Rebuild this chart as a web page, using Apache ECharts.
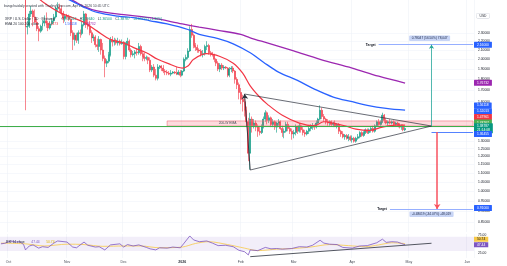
<!DOCTYPE html>
<html><head><meta charset="utf-8">
<script src="https://cdn.jsdelivr.net/npm/echarts@6/dist/echarts.min.js"></script>
<style>html,body{margin:0;padding:0;background:#fff}#c{width:507px;height:266px}</style>
</head><body><div id="c"></div>
<script>
// ---------- DATA ----------
const firstDay = '2025-09-27';
const lastAxisDay = '2026-06-04';
const monthLabels = ['2026','Feb','Mar','Apr','May','Jun','Jul','Aug','Sep','Oct','Nov','Dec'];
const priceTicks = [2.30,2.20,2.10,2.00,1.90,1.80,1.70,1.60,1.50,1.40,1.30,1.25,1.20,1.15,1.10,1.05,1.00,0.95,0.90,0.85];
const priceMin = 0.806, priceMax = 2.733;
const rsiTicks = [25,50,75];

const opens = [2.78,2.80,2.85,2.86,
2.84,2.95,3.02,3.03,2.97,2.96,2.99,2.85,2.88,2.80,2.37,2.38,2.54,2.58,2.50,2.43,2.35,2.32,2.38,2.42,2.45,2.42,2.36,2.41,2.45,2.50,2.62,2.63,2.61,2.55,2.48,
2.51,2.50,2.47,2.30,2.22,2.27,2.21,2.30,2.29,2.40,2.54,2.40,2.38,2.30,2.24,2.25,2.16,2.14,2.22,2.10,2.01,1.96,1.98,2.05,2.22,2.19,2.21,2.18,2.20,2.17,
2.19,2.03,2.17,2.20,2.10,2.05,2.06,2.08,2.07,2.14,2.06,2.03,2.01,2.02,1.99,1.89,1.92,1.84,1.81,1.92,1.93,1.91,1.88,1.87,1.86,1.85,1.86,1.87,1.86,1.85,1.87,
1.84,1.88,2.00,2.02,2.09,2.34,2.27,2.15,2.13,2.10,2.09,2.05,2.06,2.14,2.15,2.07,2.06,2.05,2.00,1.96,1.90,1.94,1.91,1.92,1.91,1.84,1.90,1.91,1.88,1.80,1.75,
1.68,1.62,1.60,1.53,1.44,1.22,1.46,1.41,1.43,1.40,1.37,1.36,1.40,1.46,1.51,1.45,1.47,1.42,1.44,1.40,1.43,1.44,1.39,1.36,1.37,1.42,1.39,1.37,
1.35,1.36,1.40,1.37,1.41,1.38,1.36,1.35,1.37,1.39,1.40,1.41,1.40,1.43,1.46,1.53,1.48,1.46,1.44,1.43,1.44,1.42,1.43,1.41,1.42,1.37,1.35,1.33,1.34,1.32,1.33,
1.31,1.32,1.30,1.32,1.33,1.36,1.34,1.36,1.38,1.36,1.38,1.39,1.37,1.41,1.44,1.42,1.44,1.49,1.45,1.43,1.44,1.43,1.44,1.42,1.43,1.42,1.40,1.41,1.38];
const closes = [2.80,2.85,2.86,2.84,
2.95,3.02,3.03,2.97,2.96,2.99,2.85,2.88,2.80,2.37,2.38,2.54,2.58,2.50,2.43,2.35,2.32,2.38,2.42,2.45,2.42,2.36,2.41,2.45,2.50,2.62,2.63,2.61,2.55,2.48,2.51,
2.50,2.47,2.30,2.22,2.27,2.21,2.30,2.29,2.40,2.54,2.40,2.38,2.30,2.24,2.25,2.16,2.14,2.22,2.10,2.01,1.96,1.98,2.05,2.22,2.19,2.21,2.18,2.20,2.17,2.19,
2.03,2.17,2.20,2.10,2.05,2.06,2.08,2.07,2.14,2.06,2.03,2.01,2.02,1.99,1.89,1.92,1.84,1.81,1.92,1.93,1.91,1.88,1.87,1.86,1.85,1.86,1.87,1.86,1.85,1.87,1.84,
1.88,2.00,2.02,2.09,2.34,2.27,2.15,2.13,2.10,2.09,2.05,2.06,2.14,2.15,2.07,2.06,2.05,2.00,1.96,1.90,1.94,1.91,1.92,1.91,1.84,1.90,1.91,1.88,1.80,1.75,1.68,
1.62,1.60,1.53,1.44,1.22,1.46,1.41,1.43,1.40,1.37,1.36,1.40,1.46,1.51,1.45,1.47,1.42,1.44,1.40,1.43,1.44,1.39,1.36,1.37,1.42,1.39,1.37,1.35,
1.36,1.40,1.37,1.41,1.38,1.36,1.35,1.37,1.39,1.40,1.41,1.40,1.43,1.46,1.53,1.48,1.46,1.44,1.43,1.44,1.42,1.43,1.41,1.42,1.37,1.35,1.33,1.34,1.32,1.33,1.31,
1.32,1.30,1.32,1.33,1.36,1.34,1.36,1.38,1.36,1.38,1.39,1.37,1.41,1.44,1.42,1.44,1.49,1.45,1.43,1.44,1.43,1.44,1.42,1.43,1.42,1.40,1.41,1.38,1.39];
const highs = [2.82,2.86,2.90,2.90,
2.98,3.05,3.09,3.05,3.03,3.02,3.03,2.90,2.89,2.84,2.45,2.58,2.65,2.60,2.60,2.48,2.38,2.40,2.46,2.52,2.56,2.45,2.45,2.48,2.54,2.64,2.70,2.68,2.66,2.58,2.54,
2.54,2.53,2.48,2.33,2.30,2.30,2.33,2.34,2.44,2.58,2.55,2.48,2.45,2.33,2.28,2.27,2.23,2.26,2.23,2.18,2.04,2.00,2.08,2.25,2.26,2.24,2.23,2.24,2.22,2.22,
2.20,2.19,2.24,2.22,2.12,2.09,2.10,2.12,2.18,2.16,2.08,2.07,2.04,2.03,2.02,1.94,1.95,1.90,1.95,1.94,1.94,1.94,1.90,1.89,1.88,1.89,1.88,1.88,1.92,1.89,1.89,
1.89,2.02,2.05,2.12,2.38,2.41,2.29,2.18,2.16,2.12,2.11,2.10,2.16,2.20,2.17,2.09,2.08,2.06,2.01,1.98,1.96,1.96,1.94,1.93,1.92,1.92,1.93,1.93,1.89,1.82,1.77,
1.72,1.66,1.63,1.56,1.47,1.51,1.48,1.46,1.45,1.42,1.40,1.42,1.48,1.53,1.52,1.49,1.48,1.46,1.45,1.44,1.46,1.45,1.41,1.39,1.44,1.44,1.41,1.39,
1.38,1.42,1.41,1.43,1.42,1.40,1.38,1.38,1.41,1.42,1.43,1.42,1.45,1.47,1.57,1.55,1.50,1.47,1.46,1.45,1.45,1.44,1.45,1.43,1.43,1.38,1.37,1.35,1.35,1.35,1.34,
1.34,1.33,1.33,1.35,1.37,1.37,1.37,1.39,1.39,1.39,1.40,1.41,1.42,1.45,1.46,1.45,1.51,1.50,1.47,1.45,1.46,1.45,1.45,1.44,1.44,1.43,1.42,1.42,1.40];
const lows = [2.76,2.77,2.80,2.78,
2.82,2.92,2.98,2.94,2.93,2.94,2.82,2.80,2.77,1.53,2.28,2.36,2.50,2.38,2.42,2.32,2.20,2.30,2.33,2.38,2.36,2.32,2.34,2.39,2.42,2.48,2.58,2.56,2.52,2.42,2.44,
2.47,2.45,2.26,2.10,2.15,2.18,2.17,2.24,2.27,2.38,2.36,2.34,2.27,2.18,2.20,2.13,2.10,2.08,2.05,1.98,1.82,1.92,1.96,2.03,2.14,2.15,2.16,2.15,2.15,2.16,
2.00,2.00,2.15,2.08,2.02,2.03,2.01,2.04,2.05,2.04,1.98,1.98,1.99,1.95,1.87,1.87,1.82,1.79,1.79,1.90,1.88,1.86,1.84,1.84,1.84,1.83,1.85,1.85,1.84,1.84,1.82,
1.83,1.87,1.98,2.00,2.08,2.24,2.12,2.09,2.07,2.07,2.03,2.02,2.04,2.10,2.05,2.03,2.03,1.97,1.93,1.88,1.87,1.89,1.89,1.90,1.82,1.82,1.87,1.86,1.76,1.71,1.62,
1.58,1.52,1.48,1.40,1.17,1.12,1.36,1.39,1.37,1.33,1.34,1.35,1.39,1.44,1.42,1.43,1.40,1.40,1.38,1.36,1.41,1.38,1.33,1.32,1.36,1.37,1.35,1.31,
1.32,1.34,1.35,1.36,1.36,1.34,1.33,1.34,1.35,1.37,1.38,1.38,1.39,1.42,1.45,1.46,1.44,1.42,1.41,1.41,1.41,1.40,1.40,1.39,1.35,1.33,1.32,1.31,1.31,1.30,1.30,
1.29,1.29,1.29,1.31,1.32,1.33,1.33,1.35,1.35,1.35,1.36,1.36,1.36,1.40,1.41,1.41,1.43,1.43,1.42,1.41,1.42,1.42,1.41,1.41,1.41,1.39,1.38,1.37,1.37];

const ema20Dates = ['2025-09-27','2025-10-05','2025-10-10','2025-10-15','2025-10-20','2025-10-28','2025-11-04','2025-11-10','2025-11-17','2025-11-24','2025-12-01','2025-12-06','2025-12-13','2025-12-19','2025-12-24','2026-01-01','2026-01-04','2026-01-07','2026-01-14','2026-01-21','2026-01-28','2026-02-02','2026-02-06','2026-02-11','2026-02-15','2026-02-23','2026-03-04','2026-03-12','2026-03-17','2026-03-22','2026-03-28','2026-04-03','2026-04-10','2026-04-17','2026-04-24','2026-04-29'];
const ema20Values = [2.90,2.93,2.92,2.80,2.69,2.56,2.49,2.43,2.32,2.22,2.18,2.13,2.07,2.00,1.96,1.91,1.93,2.00,2.06,2.03,1.96,1.86,1.74,1.64,1.58,1.49,1.43,1.41,1.44,1.43,1.41,1.385,1.375,1.40,1.415,1.414];
const ema100Dates = ['2025-09-27','2025-10-10','2025-10-20','2025-11-01','2025-11-10','2025-11-17','2025-11-28','2025-12-06','2025-12-15','2025-12-24','2026-01-04','2026-01-10','2026-01-20','2026-01-28','2026-02-06','2026-02-13','2026-02-21','2026-03-03','2026-03-12','2026-03-22','2026-04-01','2026-04-09','2026-04-19','2026-04-29'];
const ema100Values = [2.95,2.93,2.86,2.75,2.63,2.56,2.51,2.49,2.45,2.41,2.34,2.28,2.23,2.17,2.07,1.97,1.87,1.79,1.71,1.64,1.60,1.57,1.545,1.53];
const ema200Dates = ['2025-09-27','2025-10-10','2025-10-25','2025-11-03','2025-11-10','2025-11-17','2025-12-01','2025-12-15','2026-01-01','2026-01-10','2026-01-20','2026-02-01','2026-02-06','2026-02-15','2026-03-01','2026-03-15','2026-04-01','2026-04-15','2026-04-29'];
const ema200Values = [2.95,2.92,2.83,2.74,2.64,2.58,2.53,2.49,2.41,2.37,2.33,2.28,2.24,2.18,2.09,2.00,1.91,1.83,1.765];

const rsiDates = ['2025-09-27','2025-09-29','2025-10-02','2025-10-05','2025-10-07','2025-10-09','2025-10-10','2025-10-12','2025-10-14','2025-10-17','2025-10-19','2025-10-22','2025-10-25','2025-10-27','2025-11-01','2025-11-04','2025-11-06','2025-11-10','2025-11-12','2025-11-16','2025-11-18','2025-11-21','2025-11-24','2025-11-29','2025-12-01','2025-12-03','2025-12-06','2025-12-09','2025-12-13','2025-12-15','2025-12-18','2025-12-20','2025-12-24','2025-12-27','2025-12-31','2026-01-02','2026-01-05','2026-01-07','2026-01-10','2026-01-14','2026-01-17','2026-01-20','2026-01-24','2026-01-28','2026-01-31','2026-02-03','2026-02-05','2026-02-06','2026-02-10','2026-02-14','2026-02-17','2026-02-20','2026-02-23','2026-02-28','2026-03-04','2026-03-08','2026-03-11','2026-03-15','2026-03-17','2026-03-20','2026-03-24','2026-03-27','2026-04-01','2026-04-05','2026-04-09','2026-04-14','2026-04-17','2026-04-19','2026-04-22','2026-04-25','2026-04-27','2026-04-29'];
const rsiValues = [50,51.5,58,55,56,48,33,44,47,38,42,40,52,58,55,41,39,55,46,41,42,33,47,50,41,48,44,47,40,36,33,39,38,41,39,52,72,61,56,58,52,45,46,42,32,28,19,33,31,40,36,37,35,37,42,41,46,60,52,49,48,40,38,44,45,53,63,54,56,55,51,47.44];
const rsiMaDates = ['2025-09-27','2025-10-10','2025-10-20','2025-11-01','2025-11-10','2025-11-20','2025-12-01','2025-12-10','2025-12-20','2026-01-01','2026-01-08','2026-01-15','2026-01-25','2026-02-03','2026-02-10','2026-02-20','2026-03-01','2026-03-10','2026-03-20','2026-03-30','2026-04-08','2026-04-15','2026-04-22','2026-04-29'];
const rsiMaValues = [52,50,44,49,48,43,44,44,39,41,51,56,48,38,31,35,37,41,48,45,42,47,53,50.74];

// drawing levels (prices)
const breakoutLevel = 1.40;
const bandTop = 1.446, bandBottom = 1.408;
const lowerLevel = 1.364;
const targetUp = 2.16, targetDown = 0.91;
const triTopDate = '2026-02-03', triTopPrice = 1.666;
const triLowDate = '2026-02-06', triLowPrice = 1.117;
const apexDate = '2026-05-13', apexPrice = 1.408;
const downArrowDate = '2026-05-16';
const rsiTrendStart = ['2026-02-06', 14.1], rsiTrendEnd = ['2026-05-13', 51.6];

const tagValues = [2.16, 1.765, 1.565, 1.52, 1.48, 1.433, 1.385, 1.352, 0.91];
const tagTexts = ['2.16000','1.76732','1.56118','1.52013','1.47961','1.43267','1.38787\n21:14:08','1.36455','0.91000'];
const tagColors = ['#2962ff','#9c27b0','#2962ff','#2962ff','#f23645','#4caf50','#089981','#2962ff','#2962ff'];

// ---------- BUILD ----------
const L = Math.log;
const FONT = '"Liberation Sans", Arial, sans-serif';
const axisDates = [];
(function(){
  let t = Date.parse(firstDay + 'T00:00:00Z');
  const end = Date.parse(lastAxisDay + 'T00:00:00Z');
  while (t <= end) { axisDates.push(new Date(t).toISOString().slice(0,10)); t += 86400000; }
})();
const lastDate = axisDates[axisDates.length-1];
const monthStart = (i, v) => String(v).slice(8) === '01';
const candleData = closes.map((c,i)=>[L(opens[i]), L(c), L(lows[i]), L(highs[i])]);
const pair = (ds, vs, f) => ds.map((d,i)=>[d, f ? f(vs[i]) : vs[i]]);

const tagLines = tagValues.map((v,i)=>({
  yAxis: L(v),
  lineStyle: {color:'rgba(0,0,0,0)', width:0},
  label: {show:true, position:'end', distance:0, formatter: tagTexts[i], backgroundColor: tagColors[i],
    color:'#fff', fontSize:3.3, lineHeight:4, padding:[1,3], fontFamily:FONT, borderRadius:0.5}
}));

const small = {fontSize:3.3, fontFamily:FONT};

const option = {
  animation: false,
  backgroundColor: '#fff',
  textStyle: {fontFamily: FONT},
  grid: [
    {left:0, right:33, top:0, height:232},
    {left:0, right:33, top:234, height:24}
  ],
  xAxis: [
    {type:'category', gridIndex:0, data:axisDates, boundaryGap:true,
     axisLine:{show:false}, axisTick:{show:false}, axisLabel:{show:false},
     splitLine:{show:true, interval:monthStart, lineStyle:{color:'#eef1f6', width:0.6}}},
    {type:'category', gridIndex:1, data:axisDates, boundaryGap:true,
     axisLine:{show:false}, axisTick:{show:false},
     axisLabel:{show:true, interval:monthStart, margin:2, color:'#4a4e59', fontSize:3.5, fontFamily:FONT,
       formatter:v=>{const m=+v.slice(5,7); return m===1 ? '{b|'+monthLabels[0]+'}' : monthLabels[m-1];},
       rich:{b:{fontWeight:'bold', fontSize:3.5, color:'#2a2e39', fontFamily:FONT}}},
     splitLine:{show:true, interval:monthStart, lineStyle:{color:'#eef1f6', width:0.6}}}
  ],
  yAxis: [
    {type:'value', gridIndex:0, position:'right', min:L(priceMin), max:L(priceMax),
     axisLine:{show:false}, axisTick:{show:false, customValues:priceTicks.map(L)},
     axisLabel:{customValues:priceTicks.map(L), formatter:v=>Math.exp(v).toFixed(5), color:'#131722', margin:4, ...small},
     splitLine:{show:true, lineStyle:{color:'#f0f3fa', width:0.6}}},
    {type:'value', gridIndex:1, position:'right', min:10.4, max:77.5,
     axisLine:{show:false}, axisTick:{show:false, customValues:rsiTicks},
     axisLabel:{customValues:rsiTicks, formatter:v=>v.toFixed(2), color:'#131722', margin:4, ...small},
     splitLine:{show:false}}
  ],
  graphic: [
    {type:'text', left:4, top:5, z:100, style:{text:'bangchaidaily created with TradingView.com, Apr 29, 2026 10:45 UTC', fill:'#3a3e4a', fontSize:3.4, fontFamily:FONT}},
    {type:'text', left:5, top:13.5, z:100, style:{
      text:'{a|XRP / U.S. Dollar · 1D · Bitstamp}  {a|O}{g|1.37012} {a|H}{g|1.39640} {a|L}{g|1.36500} {a|C}{g|1.38787} {g|+0.01775 (+1.30%)}',
      rich:{a:{fill:'#2a2e39', fontSize:3.4, fontFamily:FONT}, g:{fill:'#089981', fontSize:3.4, fontFamily:FONT}}}},
    {type:'text', left:5, top:18.5, z:100, style:{
      text:'{a|EMA 20 100 200 close}  {r|1.41473}  {b|1.56118}  {p|1.76732}',
      rich:{a:{fill:'#2a2e39', fontSize:3.4, fontFamily:FONT}, r:{fill:'#f23645', fontSize:3.4, fontFamily:FONT},
            b:{fill:'#2962ff', fontSize:3.4, fontFamily:FONT}, p:{fill:'#9c27b0', fontSize:3.4, fontFamily:FONT}}}},
    {type:'text', left:476, top:13, z:100, style:{text:'USD', fill:'#2a2e39', fontSize:3.3, fontFamily:FONT,
      backgroundColor:'#fff', borderColor:'#d1d4dc', borderWidth:0.5, padding:[0.8,3], borderRadius:1}},
    {type:'text', left:6, top:236, z:100, style:{
      text:'{a|RSI 14 close}  {p|47.44}  {y|50.74}',
      rich:{a:{fill:'#2a2e39', fontSize:3.3, fontFamily:FONT}, p:{fill:'#7e57c2', fontSize:3.3, fontFamily:FONT}, y:{fill:'#e0b400', fontSize:3.3, fontFamily:FONT}}}}
  ],
  series: [
    {type:'candlestick', name:'XRP', xAxisIndex:0, yAxisIndex:0, data:candleData, barWidth:'78%', clip:true, z:3,
     itemStyle:{color:'#089981', color0:'#f23645', borderColor:'#089981', borderColor0:'#f23645', borderWidth:0.6},
     markArea:{silent:true, z:4, data:[[
       {coord:['2025-12-24', L(bandTop)], itemStyle:{color:'rgba(242,54,69,0.18)', borderColor:'#f0707c', borderWidth:0.6}},
       {coord:[lastDate, L(bandBottom)]}]]},
     markLine:{silent:true, symbol:'none', z:6, label:{show:false}, data:[
       {yAxis:L(breakoutLevel), lineStyle:{color:'#3fae49', width:1, type:'solid'}},
       [{coord:[apexDate, L(lowerLevel)], lineStyle:{color:'#2962ff', width:0.8, type:'solid'}}, {coord:[lastDate, L(lowerLevel)]}],
       [{coord:['2026-04-15', L(targetUp)], lineStyle:{color:'#8aa6ff', width:0.9, type:'solid'},
         label:{show:true, position:'start', distance:3, formatter:'Target', color:'#131722', fontWeight:'bold', ...small}},
        {coord:[lastDate, L(targetUp)]}],
       [{coord:['2026-04-21', L(targetDown)], lineStyle:{color:'#8aa6ff', width:0.9, type:'solid'},
         label:{show:true, position:'start', distance:3, formatter:'Target', color:'#131722', fontWeight:'bold', ...small}},
        {coord:[lastDate, L(targetDown)]}],
       [{coord:[triTopDate, L(triTopPrice)], lineStyle:{color:'#2a2e39', width:0.7, type:'solid'}}, {coord:[apexDate, L(apexPrice)]}],
       [{coord:[triLowDate, L(triLowPrice)], lineStyle:{color:'#2a2e39', width:0.7, type:'solid'}}, {coord:[apexDate, L(apexPrice)]}],
       [{coord:[triLowDate, L(triLowPrice)], lineStyle:{color:'#2a2e39', width:0.9, type:'solid'}}, {coord:[triTopDate, L(triTopPrice)], symbol:'arrow', symbolSize:5}],
       [{coord:[apexDate, L(apexPrice)], lineStyle:{color:'#26a69a', width:0.8, type:'solid'}}, {coord:[apexDate, L(targetUp)], symbol:'arrow', symbolSize:4}],
       [{coord:[downArrowDate, L(lowerLevel)], lineStyle:{color:'#f7525f', width:1.5, type:'solid'}}, {coord:[downArrowDate, L(targetDown)], symbol:'arrow', symbolSize:5}],
       ...tagLines
     ]},
     markPoint:{silent:true, symbol:'circle', symbolSize:1, itemStyle:{color:'rgba(0,0,0,0)'}, z:7, data:[
       {coord:['2026-01-25', L(1.427)], label:{show:true, position:'inside', formatter:'200-W EMA', color:'#4a4e59', ...small}},
       {coord:['2026-05-12', L(2.235)], label:{show:true, position:'inside', formatter:'0.78047 (56.50%) 78,047', color:'#1e2a4a',
         backgroundColor:'#c8d5f6', padding:[1.2,2.5], borderRadius:1, fontSize:3.2, fontFamily:FONT}},
       {coord:['2026-05-13', L(0.885)], label:{show:true, position:'inside', formatter:'-0.48019 (-34.07%) -48,019', color:'#1e2a4a',
         backgroundColor:'#c8d5f6', padding:[1.2,2.5], borderRadius:1, fontSize:3.2, fontFamily:FONT}}
     ]}},
    {type:'line', name:'EMA200', xAxisIndex:0, yAxisIndex:0, data:pair(ema200Dates, ema200Values, L), showSymbol:false, smooth:0.35, clip:true, z:4,
     lineStyle:{color:'#9c27b0', width:1.3}},
    {type:'line', name:'EMA100', xAxisIndex:0, yAxisIndex:0, data:pair(ema100Dates, ema100Values, L), showSymbol:false, smooth:0.35, clip:true, z:4,
     lineStyle:{color:'#2962ff', width:1.3}},
    {type:'line', name:'EMA20', xAxisIndex:0, yAxisIndex:0, data:pair(ema20Dates, ema20Values, L), showSymbol:false, smooth:0.35, clip:true, z:4,
     lineStyle:{color:'#f23645', width:1.2}},
    {type:'line', name:'RSI', xAxisIndex:1, yAxisIndex:1, data:pair(rsiDates, rsiValues), showSymbol:false, clip:true, z:4,
     lineStyle:{color:'#7e57c2', width:0.8},
     markArea:{silent:true, itemStyle:{color:'rgba(126,87,194,0.1)'}, data:[[{yAxis:30},{yAxis:70}]]},
     markLine:{silent:true, symbol:'none', z:6, label:{show:false}, data:[
       [{coord:rsiTrendStart, lineStyle:{color:'#2a2e39', width:0.8, type:'solid'}}, {coord:rsiTrendEnd}],
       {yAxis:50.74, lineStyle:{color:'rgba(0,0,0,0)', width:0},
        label:{show:true, position:'end', distance:0, offset:[0,-4.3], formatter:'50.74', backgroundColor:'#f7c948', color:'#131722', padding:[1,3], ...small}},
       {yAxis:47.44, lineStyle:{color:'rgba(0,0,0,0)', width:0},
        label:{show:true, position:'end', distance:0, formatter:'47.44', backgroundColor:'#7e57c2', color:'#fff', padding:[1,3], ...small}}
     ]}},
    {type:'line', name:'RSI MA', xAxisIndex:1, yAxisIndex:1, data:pair(rsiMaDates, rsiMaValues), showSymbol:false, smooth:0.3, clip:true, z:3,
     lineStyle:{color:'#f7c948', width:0.8}}
  ]
};
const chart = echarts.init(document.getElementById('c'));
chart.setOption(option);
</script></body></html>
